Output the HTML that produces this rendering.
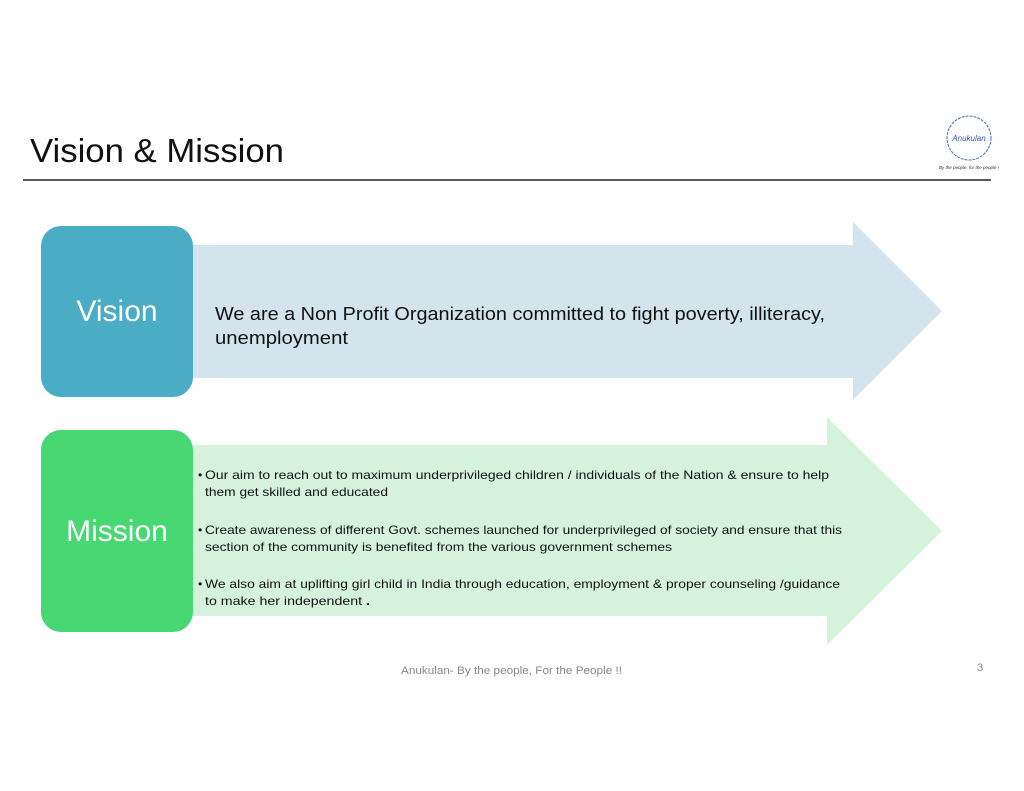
<!DOCTYPE html>
<html><head><meta charset="utf-8"><style>
html,body{margin:0;padding:0;background:#fff;}
svg{display:block}
text{font-family:"Liberation Sans",sans-serif;}
</style></head><body>
<svg width="1024" height="791" viewBox="0 0 1024 791" xmlns="http://www.w3.org/2000/svg">
<text x="30" y="162" font-size="33" fill="#111" textLength="254" lengthAdjust="spacingAndGlyphs">Vision &amp; Mission</text>
<line x1="23" y1="180" x2="991" y2="180" stroke="#222" stroke-width="1.5"/>
<!-- logo -->
<g fill="none" stroke="#4a6db5" stroke-width="1">
<circle cx="969" cy="138" r="22" stroke-dasharray="3 1"/>
</g>
<text x="969" y="141" font-size="8" fill="#3a5aa8" text-anchor="middle" font-style="italic" font-family="Liberation Serif, serif">Anukulan</text>
<text x="969" y="169" font-size="4.5" fill="#333" text-anchor="middle" font-style="italic">By the people, for the people !</text>

<!-- vision -->
<polygon points="193,245 853,245 853,222 942,311 853,400 853,378 193,378" fill="#d3e4ec"/>
<rect x="41" y="226" width="152" height="171" rx="20" fill="#4bacc6"/>
<text x="117" y="321" font-size="30" fill="#fff" text-anchor="middle">Vision</text>
<text x="215" y="320" font-size="18" fill="#111" textLength="610" lengthAdjust="spacingAndGlyphs">We are a Non Profit Organization committed to fight poverty, illiteracy,</text>
<text x="215" y="344" font-size="18" fill="#111" textLength="133" lengthAdjust="spacingAndGlyphs">unemployment</text>

<!-- mission -->
<polygon points="193,445 827,445 827,417 942,531 827,645 827,616 193,616" fill="#d5f2dc"/>
<rect x="41" y="430" width="152" height="202" rx="20" fill="#47d873"/>
<text x="117" y="541" font-size="30" fill="#fff" text-anchor="middle">Mission</text>
<g font-size="12" fill="#111">
<text x="198" y="479">•</text>
<text x="205" y="479" textLength="624" lengthAdjust="spacingAndGlyphs">Our aim to reach out to maximum underprivileged children / individuals of the Nation &amp; ensure to help</text>
<text x="205" y="496" textLength="183" lengthAdjust="spacingAndGlyphs">them get skilled and educated</text>
<text x="198" y="534">•</text>
<text x="205" y="534" textLength="637" lengthAdjust="spacingAndGlyphs">Create awareness of different Govt. schemes launched for underprivileged of society and ensure that this</text>
<text x="205" y="551" textLength="467" lengthAdjust="spacingAndGlyphs">section of the community is benefited from the various government schemes</text>
<text x="198" y="588">•</text>
<text x="205" y="588" textLength="635" lengthAdjust="spacingAndGlyphs">We also aim at uplifting girl child in India through education, employment &amp; proper counseling /guidance</text>
<text x="205" y="605" textLength="165" lengthAdjust="spacingAndGlyphs">to make her independent <tspan font-weight="bold">.</tspan></text>
</g>
<text x="401" y="674" font-size="11" fill="#888" textLength="221" lengthAdjust="spacingAndGlyphs">Anukulan- By the people, For the People !!</text>
<text x="977" y="671" font-size="11" fill="#888">3</text>
</svg>
</body></html>
